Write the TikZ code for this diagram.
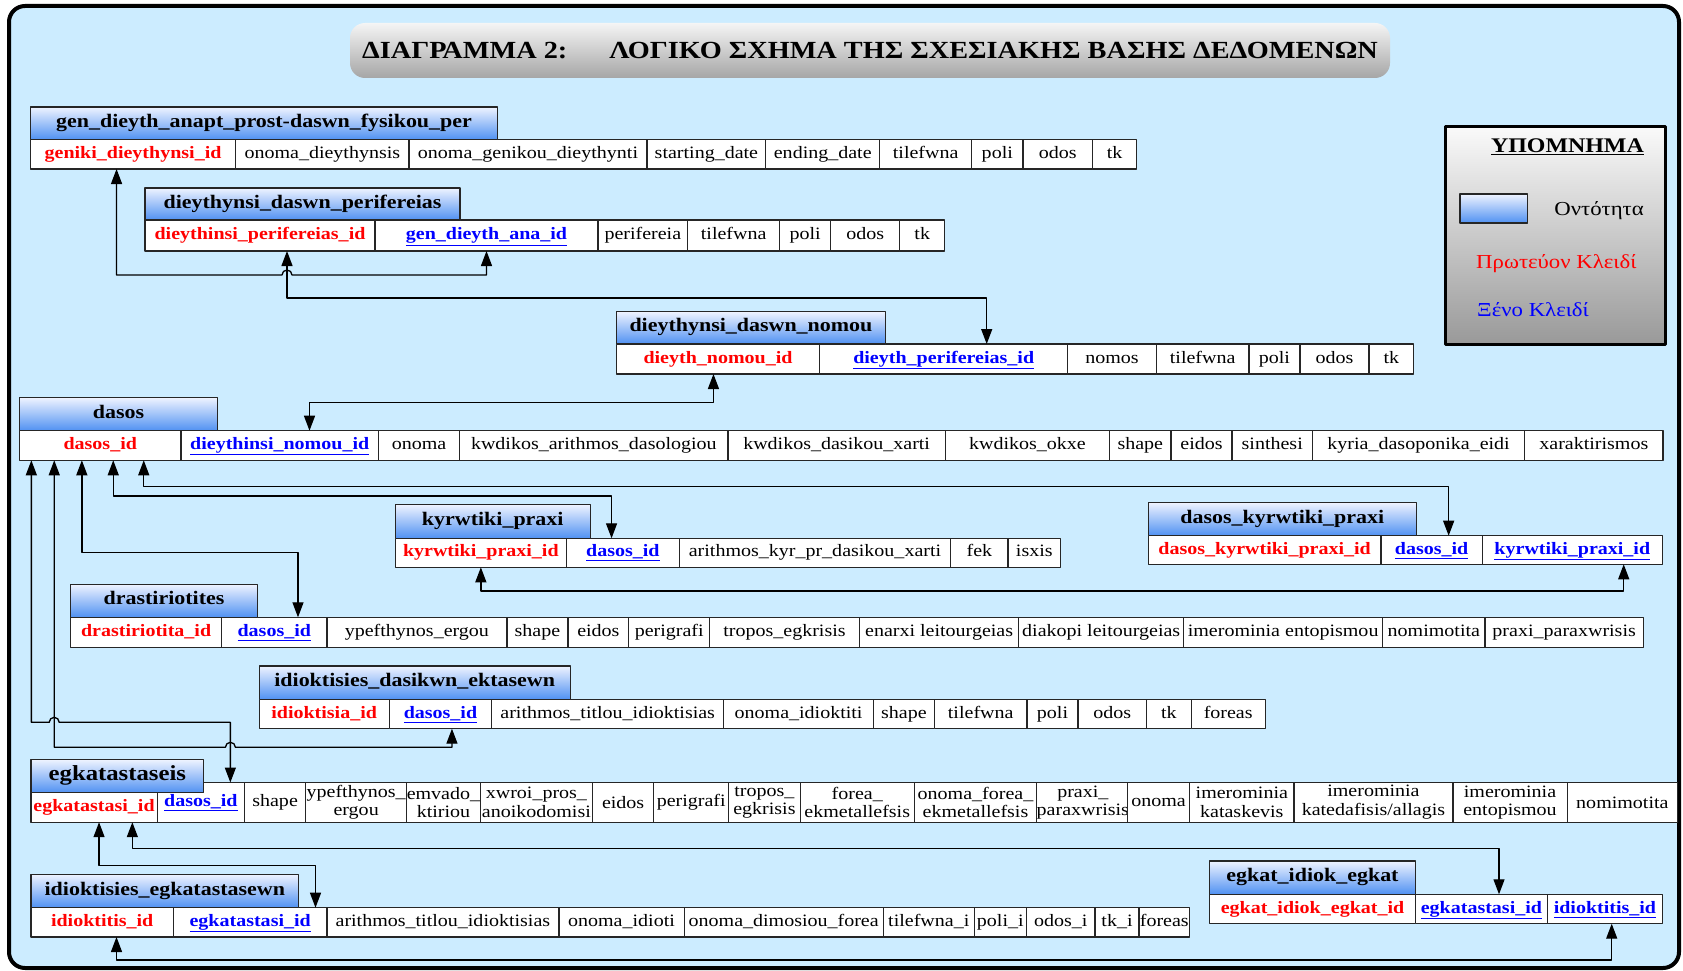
\documentclass[tikz,border=0pt]{standalone}
\usepackage{fontspec}
\setmainfont{Liberation Serif}[FakeStretch=1.15]
\usepackage{tikz}
\usetikzlibrary{arrows.meta}
\definecolor{bgblue}{RGB}{204,236,255}
\definecolor{hdrtop}{RGB}{238,243,255}
\definecolor{hdrbot}{RGB}{80,145,242}
\newcommand{\fnorm}{\fontsize{17.4}{18.5}\selectfont}
\newcommand{\fhead}{\fontsize{19.1}{21}\selectfont\bfseries}
\newcommand{\pk}[1]{\textcolor{red}{\textbf{#1}}}
\newcommand{\fk}[1]{\textcolor{blue}{\textbf{\underline{#1}}}}

\begin{document}
\begin{tikzpicture}[line cap=round,line join=round,>={Triangle[length=15pt,width=11pt]},x=1pt,y=-1pt,
	cell/.style={draw=black!85,fill=white,line width=1.2pt,anchor=north west,inner sep=0pt,outer sep=0pt,font=\fnorm,text height=12pt,text depth=4pt},
	cellii/.style={draw=black!85,fill=white,line width=1.2pt,anchor=north west,inner sep=0pt,outer sep=0pt,font=\fnorm,align=center},
	hdr/.style={draw=black!85,line width=1.2pt,top color=hdrtop,bottom color=hdrbot,anchor=north west,inner sep=0pt,outer sep=0pt,font=\fhead,text height=13pt,text depth=5pt},
	titlebox/.style={rounded corners=15pt,top color=black!4,bottom color=black!35,inner sep=0pt,font=\fontsize{24.6}{28}\selectfont\bfseries},
	legendbox/.style={draw=black,line width=3pt,top color=black!2,bottom color=black!40,anchor=north west,inner sep=0pt},
	legtext/.style={font=\fontsize{19.8}{22}\selectfont,inner sep=0pt},
	link/.style={<->,line width=1.3pt}]
				\useasboundingbox (0,0) rectangle (1683,971);
				\fill[white] (0,0) rectangle (1683,971);
				\draw[line width=4pt,fill=bgblue,rounded corners=16pt] (9,6) rectangle (1679,968);
				
				\node[titlebox,minimum width=1040pt,minimum height=55pt] (title) at (870,50.5) {ΔΙΑΓΡΑΜΜΑ 2:\hspace{42pt}ΛΟΓΙΚΟ ΣΧΗΜΑ ΤΗΣ ΣΧΕΣΙΑΚΗΣ ΒΑΣΗΣ ΔΕΔΟΜΕΝΩΝ};
				
				\node[legendbox,minimum width=219.7pt,minimum height=217.7pt] (legend) at (1444,125) {};
				\node[legtext,font=\fontsize{20.8}{24}\selectfont\bfseries,anchor=base east] (legtitle) at (1644,153) {\underline{ΥΠΟΜΝΗΜΑ}};
				\node[hdr,minimum width=67.6pt,minimum height=29pt] (legent) at (1460,194) {};
				\node[legtext,anchor=base east] (legentt) at (1644,215) {Οντότητα};
				\node[legtext,anchor=base west,text=red] (legpk) at (1476,268) {Πρωτεύον Κλειδί};
				\node[legtext,anchor=base west,text=blue] (legfk) at (1477,316) {Ξένο Κλειδί};
				
				\foreach \xa/\xb/\txt [count=\i] in {30.4/235.7/\pk{geniki\_dieythynsi\_id},235.7/409/onoma\_dieythynsis,409/647/onoma\_genikou\_dieythynti,647/765.8/starting\_date,765.8/879.7/ending\_date,879.7/971.6/tilefwna,971.6/1023/poli,1023/1092.5/odos,1092.5/1136.7/tk}
					\node[cell,minimum width={(\xb-\xa)*1pt},minimum height=29.5pt] (gen\i) at (\xa,139.5) {\txt};
				\node[hdr,minimum width=467.3pt,minimum height=32.5pt] (genh) at (30.4,107) {gen\_dieyth\_anapt\_prost-daswn\_fysikou\_per};
				
				\foreach \xa/\xb/\txt [count=\i] in {145/375/\pk{dieythinsi\_perifereias\_id},375/598/\fk{gen\_dieyth\_ana\_id},598/687.7/perifereia,687.7/779.6/tilefwna,779.6/830.7/poli,830.7/899.8/odos,899.8/944.7/tk}
					\node[cell,minimum width={(\xb-\xa)*1pt},minimum height=31pt] (per\i) at (\xa,220) {\txt};
				\node[hdr,minimum width=315pt,minimum height=32pt] (perh) at (145,188) {dieythynsi\_daswn\_perifereias};
				
				\foreach \xa/\xb/\txt [count=\i] in {616.4/819.7/\pk{dieyth\_nomou\_id},819.7/1067.7/\fk{dieyth\_perifereias\_id},1067.7/1156.4/nomos,1156.4/1248.9/tilefwna,1248.9/1300/poli,1300/1369/odos,1369/1413.7/tk}
					\node[cell,minimum width={(\xb-\xa)*1pt},minimum height=30pt] (nom\i) at (\xa,344) {\txt};
				\node[hdr,minimum width=269.1pt,minimum height=32.3pt] (nomh) at (616.4,311.7) {dieythynsi\_daswn\_nomou};
				
				\foreach \xa/\xb/\txt [count=\i] in {19.5/181/\pk{dasos\_id},181/378.4/\fk{dieythinsi\_nomou\_id},378.4/459.7/onoma,459.7/728/kwdikos\_arithmos\_dasologiou,728/945.3/kwdikos\_dasikou\_xarti,945.3/1109.6/kwdikos\_okxe,1109.6/1171/shape,1171/1232/eidos,1232/1312.5/sinthesi,1312.5/1524.7/kyria\_dasoponika\_eidi,1524.7/1662.9/xaraktirismos}
					\node[cell,minimum width={(\xb-\xa)*1pt},minimum height=29.6pt] (das\i) at (\xa,430.7) {\txt};
				\node[hdr,minimum width=197.9pt,minimum height=33pt] (dash) at (19.5,397.7) {dasos};
				
				\foreach \xa/\xb/\txt [count=\i] in {395.2/566.5/\pk{kyrwtiki\_praxi\_id},566.5/679.2/\fk{dasos\_id},679.2/950.8/arithmos\_kyr\_pr\_dasikou\_xarti,950.8/1007.9/fek,1007.9/1060.7/isxis}
					\node[cell,minimum width={(\xb-\xa)*1pt},minimum height=29pt] (kyr\i) at (\xa,538.3) {\txt};
				\node[hdr,minimum width=195.1pt,minimum height=33.6pt] (kyrh) at (395.2,504.7) {kyrwtiki\_praxi};
				
				\foreach \xa/\xb/\txt [count=\i] in {1148.2/1381/\pk{dasos\_kyrwtiki\_praxi\_id},1381/1482.3/\fk{dasos\_id},1482.3/1662.3/\fk{kyrwtiki\_praxi\_id}}
					\node[cell,minimum width={(\xb-\xa)*1pt},minimum height=28.6pt] (dkp\i) at (\xa,535.7) {\txt};
				\node[hdr,minimum width=268.2pt,minimum height=33pt] (dkph) at (1148.2,502.7) {dasos\_kyrwtiki\_praxi};
				
				\foreach \xa/\xb/\txt [count=\i] in {70.5/221.7/\pk{drastiriotita\_id},221.7/326.9/\fk{dasos\_id},326.9/506.9/ypefthynos\_ergou,506.9/568/shape,568/628.8/eidos,628.8/709.6/perigrafi,709.6/859.4/tropos\_egkrisis,859.4/1018.8/enarxi leitourgeias,1018.8/1183.6/diakopi leitourgeias,1183.6/1382.7/imerominia entopismou,1382.7/1485/nomimotita,1485/1643.3/praxi\_paraxwrisis}
					\node[cell,minimum width={(\xb-\xa)*1pt},minimum height=30pt] (dra\i) at (\xa,617.3) {\txt};
				\node[hdr,minimum width=187pt,minimum height=33pt] (drah) at (70.5,584.3) {drastiriotites};
				
				\foreach \xa/\xb/\txt [count=\i] in {259.1/389.2/\pk{idioktisia\_id},389.2/491.7/\fk{dasos\_id},491.7/723.7/arithmos\_titlou\_idioktisias,723.7/873.5/onoma\_idioktiti,873.5/934.4/shape,934.4/1027/tilefwna,1027/1078/poli,1078/1146.6/odos,1146.6/1191.2/tk,1191.2/1265.2/foreas}
					\node[cell,minimum width={(\xb-\xa)*1pt},minimum height=29.4pt] (ide\i) at (\xa,699.3) {\txt};
				\node[hdr,minimum width=311.2pt,minimum height=33.3pt] (ideh) at (259.1,666) {idioktisies\_dasikwn\_ektasewn};
				
				\foreach \xa/\xb/\txt [count=\i from 2] in {157.2/244.5/\fk{dasos\_id},244.5/305.7/shape,305.7/406.6/ypefthynos\_\\ergou,406.6/480.3/emvado\_\\ktiriou,480.3/592.5/xwroi\_pros\_\\anoikodomisi,592.5/653.8/eidos,653.8/728.6/perigrafi,728.6/800.2/tropos\_\\egkrisis,800.2/914.3/forea\_\\ekmetallefsis,914.3/1036.7/onoma\_forea\_\\ekmetallefsis,1036.7/1127.6/praxi\_\\paraxwrisis,1127.6/1189.6/onoma,1189.6/1294/imerominia\\kataskevis,1294/1452.9/{imerominia\\katedafisis/allagis},1452.9/1567.1/imerominia\\entopismou,1567.1/1677.6/nomimotita}
					\node[cellii,minimum width={(\xb-\xa)*1pt},minimum height=39.7pt] (egk\i) at (\xa,782.5) {\txt};
				\node[cell,minimum width=126.3pt,minimum height=29.4pt] (egk1) at (30.9,792.8) {\pk{egkatastasi\_id}};
				\node[hdr,font=\fontsize{21.5}{24}\selectfont\bfseries,minimum width=172.9pt,minimum height=33.3pt] (egkh) at (30.9,759.5) {egkatastaseis};
				
				\foreach \xa/\xb/\txt [count=\i] in {30.9/173.5/\pk{idioktitis\_id},173.5/326.9/\fk{egkatastasi\_id},326.9/558.9/arithmos\_titlou\_idioktisias,558.9/684.1/onoma\_idioti,684.1/883.3/onoma\_dimosiou\_forea,883.3/974.2/tilefwna\_i,974.2/1026.4/poli\_i,1026.4/1095/odos\_i,1095/1139/tk\_i,1139/1189.6/foreas}
					\node[cell,minimum width={(\xb-\xa)*1pt},minimum height=29.3pt] (ieg\i) at (\xa,907.7) {\txt};
				\node[hdr,minimum width=267.8pt,minimum height=33.4pt] (iegh) at (30.9,874.3) {idioktisies\_egkatastasewn};
				
				\foreach \xa/\xb/\txt [count=\i] in {1209.7/1415.3/\pk{egkat\_idiok\_egkat\_id},1415.3/1547.5/\fk{egkatastasi\_id},1547.5/1662.3/\fk{idioktitis\_id}}
					\node[cell,minimum width={(\xb-\xa)*1pt},minimum height=29.4pt] (eie\i) at (\xa,894.3) {\txt};
				\node[hdr,minimum width=205.6pt,minimum height=33.3pt] (eieh) at (1209.7,861) {egkat\_idiok\_egkat};
				
				\draw[link] ([xshift=-16.5pt]gen1.south) |- (282,275) arc[start angle=180,end angle=0,radius=5pt] -| (per2.south);
				\draw[link] ([xshift=27pt]per1.south) -- ++(0,47) -| ([xshift=43pt]nom2.north);
				\draw[link] ([xshift=-4.6pt]nom1.south) -- ++(0,28.7) -| ([xshift=29.8pt]das2.north);
				
				\draw[link] ([xshift=43.5pt]das1.south) -- ++(0,26.4) -| ([xshift=17pt]dkp2.north);
				\draw[link] ([xshift=13pt]das1.south) -- ++(0,35.7) -| ([xshift=-11.3pt]kyr2.north);
				\draw[link] ([xshift=-18.4pt]das1.south) -- ++(0,92.4) -| ([xshift=23.7pt]dra2.north);
				\draw[link] (kyr1.south) -- ++(0,23.7) -| ([xshift=51.4pt]dkp3.south);
				\draw[link] ([xshift=-68.9pt]das1.south) |- (49.2,722.3) arc[start angle=180,end angle=0,radius=5pt] -| ([xshift=29.5pt]egk2.north);
				\draw[link] ([xshift=-46pt]das1.south) |- (225.4,747.3) arc[start angle=180,end angle=0,radius=5pt] -| ([xshift=11.5pt]ide2.south);
				
				\draw[link] ([xshift=5pt]egk1.south) -- ++(0,43.5) -| ([xshift=65.3pt]ieg2.north);
				\draw[link] ([xshift=38.3pt]egk1.south) -- ++(0,26.5) -| ([xshift=17.6pt]eie2.north);
				\draw[link] ([xshift=14.3pt]ieg1.south) -- ++(0,23) -| ([xshift=6.8pt]eie3.south);
			\end{tikzpicture}
\end{document}
